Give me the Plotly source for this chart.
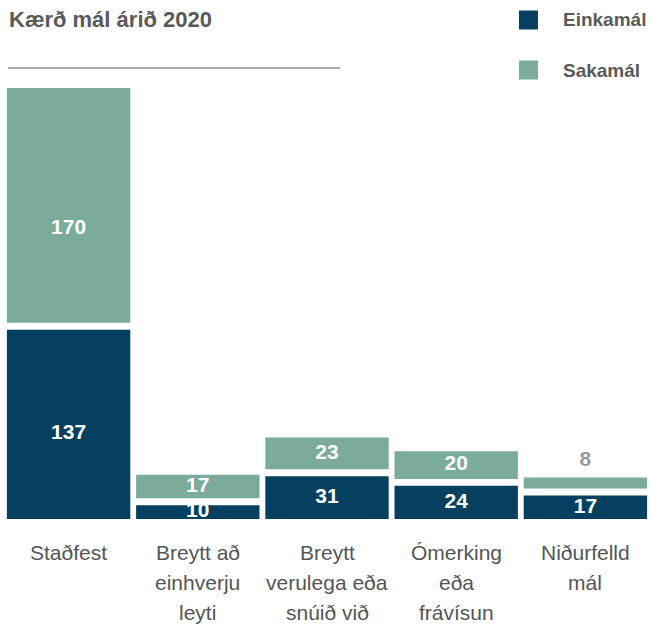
import plotly.graph_objects as go

# ---- data ----
categories = ["Staðfest", "Breytt að einhverju leyti", "Breytt verulega eða snúið við",
              "Ómerking eða frávísun", "Niðurfelld mál"]
category_lines = [["Staðfest"], ["Breytt að", "einhverju", "leyti"],
                  ["Breytt", "verulega eða", "snúið við"],
                  ["Ómerking", "eða", "frávísun"], ["Niðurfelld", "mál"]]
einkamal = [137, 10, 31, 24, 17]
sakamal = [170, 17, 23, 20, 8]
series_names = ["Einkamál", "Sakamál"]
series_colors = ["#064060", "#7AAB9B"]
title_text = "Kærð mál árið 2020"

# ---- layout constants ----
W, H = 652, 625
ML, MR, MT, MB = 4, 2, 88, 106
GAP = 5  # visual gap (in axis units) between the stacked segments
PW, PH = W - ML - MR, H - MT - MB
YMAX = einkamal[0] + GAP + sakamal[0]
UPX = YMAX / PH  # axis units per pixel
# label pixel offsets (downwards) for (einkamal, sakamal) labels of each bar
LABEL_DROP = [(9, 23), (0, 0), (0, 0), (0, 0), (0, 0)]

def px(x):
    return (x - ML) / PW

def py(y):
    return (H - MB - y) / PH

fig = go.Figure()
fig.add_trace(go.Bar(x=categories, y=einkamal, name=series_names[0],
                     marker=dict(color=series_colors[0], line=dict(width=0)),
                     hoverinfo="y"))
fig.add_trace(go.Bar(x=categories, y=sakamal, base=[e + GAP for e in einkamal],
                     name=series_names[1],
                     marker=dict(color=series_colors[1], line=dict(width=0)),
                     hoverinfo="y"))

# value labels
lab_x, lab_y, lab_t, lab_c = [], [], [], []
for c, e, s, (de, ds) in zip(categories, einkamal, sakamal, LABEL_DROP):
    lab_x.append(c); lab_y.append(e / 2 - de * UPX); lab_t.append(str(e)); lab_c.append("white")
    if s >= 12:
        lab_x.append(c); lab_y.append(e + GAP + s / 2 - ds * UPX); lab_t.append(str(s)); lab_c.append("white")
    else:
        lab_x.append(c); lab_y.append(e + GAP + s + 12); lab_t.append(str(s)); lab_c.append("#999999")
fig.add_trace(go.Scatter(x=lab_x, y=lab_y, text=lab_t, mode="text",
                         textposition="middle center", cliponaxis=True,
                         textfont=dict(family="Liberation Sans, Arial, sans-serif",
                                       size=21, color=lab_c, weight="bold"),
                         hoverinfo="skip", showlegend=False))

annotations = []
# category labels
for c, lines in zip(categories, category_lines):
    for i, ln in enumerate(lines):
        annotations.append(dict(x=c, xref="x", y=0, yref="paper", text=ln,
                                showarrow=False, xanchor="center", yanchor="middle",
                                yshift=-(33 + 30 * i),
                                font=dict(family="Liberation Sans, Arial, sans-serif",
                                          size=21, color="#555555")))
# title
annotations.append(dict(x=px(7), y=py(19), xref="paper", yref="paper", text="<b>" + title_text + "</b>",
                        showarrow=False, xanchor="left", yanchor="middle",
                        font=dict(family="Liberation Sans, Arial, sans-serif", size=22, color="#5A5A5A")))
shapes = [dict(type="line", xref="paper", yref="paper", x0=px(8), x1=px(340), y0=py(68), y1=py(68),
               line=dict(color="#555555", width=1))]
# legend
for i, (n, col) in enumerate(zip(series_names, series_colors)):
    yc = 20 + 50 * i
    shapes.append(dict(type="rect", xref="paper", yref="paper", x0=px(519), x1=px(538),
                       y0=py(yc - 9.5), y1=py(yc + 9.5), fillcolor=col, line=dict(width=0)))
    annotations.append(dict(x=px(561), y=py(yc), xref="paper", yref="paper", text="<b>" + n + "</b>",
                            showarrow=False, xanchor="left", yanchor="middle",
                            font=dict(family="Liberation Sans, Arial, sans-serif", size=19, color="#5A5A5A")))

fig.update_layout(
    width=W, height=H, margin=dict(l=ML, r=MR, t=MT, b=MB, pad=0),
    paper_bgcolor="white", plot_bgcolor="white",
    barmode="overlay", bargap=0.045, showlegend=False,
    xaxis=dict(showticklabels=False, showgrid=False, zeroline=False, showline=False, ticks=""),
    yaxis=dict(range=[0, YMAX], showticklabels=False, showgrid=False,
               zeroline=False, showline=False, ticks=""),
    annotations=annotations, shapes=shapes,
)
fig.write_html("out.html", config={"displayModeBar": False},
               post_script="document.body.style.margin='0';document.body.style.overflow='hidden';")
